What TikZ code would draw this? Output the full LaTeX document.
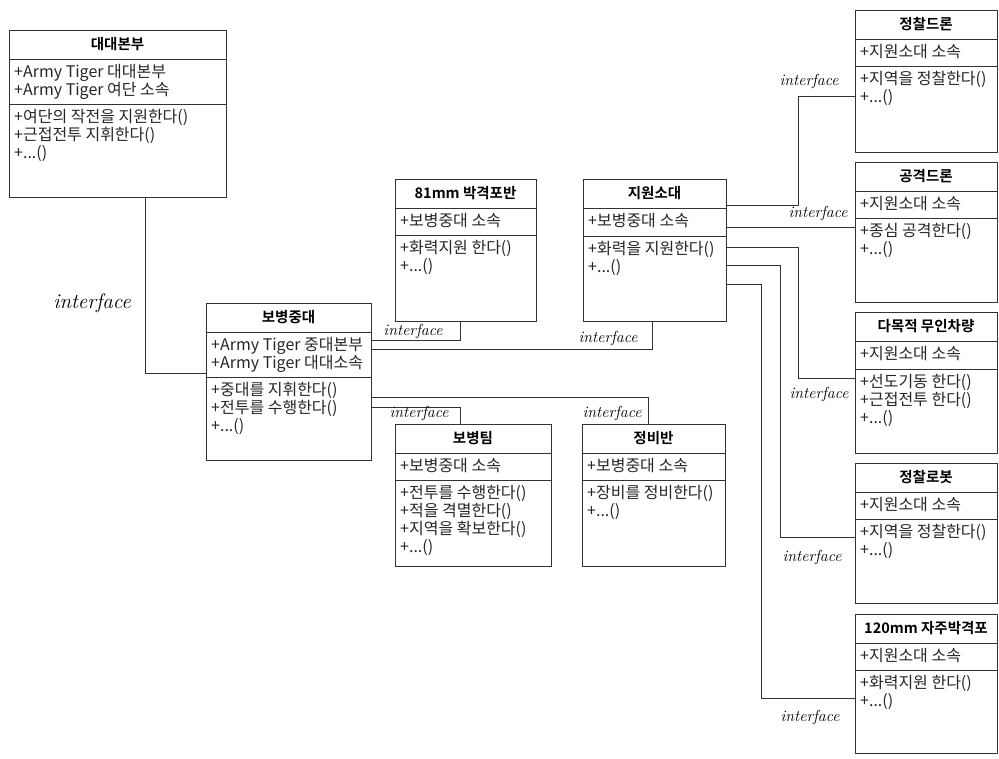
\documentclass[tikz,border=0pt]{standalone}
\usepackage{fontspec}
\newfontfamily\kr{Noto Sans CJK KR}[BoldFont={Noto Sans CJK KR Bold}]

\begin{document}
\begin{tikzpicture}[x=1pt, y=-1pt,
  box/.style={draw=black!80, line width=1pt, anchor=north west, inner sep=0pt, outer sep=0pt},
  title/.style={font=\kr\bfseries\fontsize{14.5}{17}\selectfont, inner sep=0pt},
  items/.style={anchor=north west, align=left, inner sep=0pt, text=black!85,
    font=\kr\fontsize{16}{18}\selectfont},
  iface/.style={font=\itshape\fontsize{16}{18}\selectfont, inner sep=0pt},
  link/.style={draw=black!80, line width=0.7pt}]
  \useasboundingbox (0,0) rectangle (999,758);
  % class boxes: name/x/y/width/height/attribute rows/title/attributes/operations
  \foreach \nm/\bx/\by/\bw/\bh/\ah/\ttl/\atr/\mth in {
    ddhq/9/30/217/167/45/대대본부/{+Army Tiger 대대본부\\+Army Tiger 여단 소속}/{+여단의 작전을 지원한다()\\+근접전투 지휘한다()\\+...()},
    bbj/206/303/165/157/45/보병중대/{+Army Tiger 중대본부\\+Army Tiger 대대소속}/{+중대를 지휘한다()\\+전투를 수행한다()\\+...()},
    mort/395/179/141/142/27/81mm 박격포반/{+보병중대 소속}/{+화력지원 한다()\\+...()},
    spt/583/179/143/142/28/지원소대/{+보병중대 소속}/{+화력을 지원한다()\\+...()},
    team/395/424/156/142/27/보병팀/{+보병중대 소속}/{+전투를 수행한다()\\+적을 격멸한다()\\+지역을 확보한다()\\+...()},
    mnt/582/424/143/142/27/정비반/{+보병중대 소속}/{+장비를 정비한다()\\+...()},
    rdrone/855/10/142/142/27/정찰드론/{+지원소대 소속}/{+지역을 정찰한다()\\+...()},
    adrone/855/162/142/140/27/공격드론/{+지원소대 소속}/{+종심 공격한다()\\+...()},
    ugv/855/312/142/141/28/다목적 무인차량/{+지원소대 소속}/{+선도기동 한다()\\+근접전투 한다()\\+...()},
    robot/855/463/142/140/27/정찰로봇/{+지원소대 소속}/{+지역을 정찰한다()\\+...()},
    spmort/855/614/142/139/27/120mm 자주박격포/{+지원소대 소속}/{+화력지원 한다()\\+...()}%
  }{
    \node[box, minimum width=\bw, minimum height=\bh] (\nm) at (\bx,\by) {};
    \draw[black!80, line width=1pt] (\nm.north west) ++(0,29) -- +(\bw,0) ++(0,\ah) -- +(\bw,0);
    \node[title] (\nm-t) at ([shift={(0,14.5)}]\nm.north) {\ttl};
    \node[items] (\nm-a) at ([shift={(5,34)}]\nm.north west) {\atr};
    \node[items] (\nm-m) at ([shift={(5,34+\ah)}]\nm.north west) {\mth};
  }
  % 대대본부 - 보병중대
  \draw[link] (ddhq.south -| 145,0) |- (bbj.west |- 0,373);
  \node[iface, font=\itshape\fontsize{21}{24}\selectfont] (if1) at (92,303) {interface};
  % 보병중대 - 81mm 박격포반, 지원소대, 보병팀, 정비반
  \draw[link] (bbj.east |- 0,340) -| (mort.south -| 460,0);
  \draw[link] (bbj.east |- 0,349) -| (spt.south -| 652,0);
  \draw[link] (bbj.east |- 0,397) -| (mnt.north -| 648,0);
  \draw[link] (bbj.east |- 0,407) -| (team.north -| 460,0);
  \node[iface] (if2) at (413,331) {interface};
  \node[iface] (if3) at (608,338) {interface};
  \node[iface] (if4) at (419,413) {interface};
  \node[iface] (if5) at (612,413) {interface};
  % 지원소대 - right column
  \draw[link] (spt.east |- 0,205) -| (798,96) -- (rdrone.west |- 0,96);
  \draw[link] (spt.east |- 0,227) -- (adrone.west |- 0,227);
  \draw[link] (spt.east |- 0,247) -| (798,378) -- (ugv.west |- 0,378);
  \draw[link] (spt.east |- 0,265) -| (780,537) -- (robot.west |- 0,537);
  \draw[link] (spt.east |- 0,284) -| (761,698) -- (spmort.west |- 0,698);
  \node[iface] (if6) at (809,81) {interface};
  \node[iface] (if7) at (818,213) {interface};
  \node[iface] (if8) at (819,394) {interface};
  \node[iface] (if9) at (812,557) {interface};
  \node[iface] (if10) at (810,717) {interface};
\end{tikzpicture}
\end{document}
